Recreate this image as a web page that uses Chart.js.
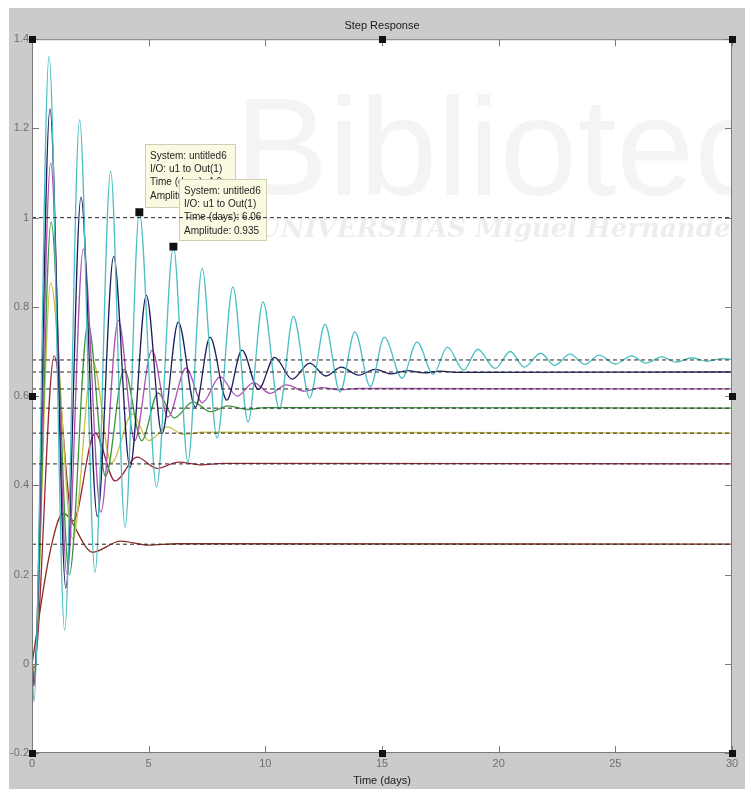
<!DOCTYPE html>
<html>
<head>
<meta charset="utf-8">
<script src="https://cdn.jsdelivr.net/npm/chart.js@4.4.0/dist/chart.umd.min.js"></script>
<style>
  html, body { margin: 0; padding: 0; background: #fff; }
  #panel { position: absolute; left: 9px; top: 8px; width: 736px; height: 781px; background: #cbcbcb; }
</style>
</head>
<body>
<div id="panel"><canvas id="stepChart" width="736" height="781"></canvas></div>
<script>
const xTicks = [0, 5, 10, 15, 20, 25, 30];
const yTicks = [-0.2, 0, 0.2, 0.4, 0.6, 0.8, 1, 1.2, 1.4];

// step responses, [time (days), amplitude] read at the peaks and troughs
const cyan = [[0,0],[0.08,-0.085],[0.73,1.362],[1.4,0.075],[2.04,1.219],[2.7,0.205],[3.37,1.104],[3.99,0.306],
  [4.6,1.012],[5.34,0.396],[6.06,0.935],[6.68,0.452],[7.29,0.887],[7.93,0.506],[8.61,0.845],[9.26,0.542],
  [9.9,0.811],[10.6,0.571],[11.2,0.779],[11.9,0.596],[12.56,0.761],[13.2,0.609],[13.84,0.744],[14.5,0.621],
  [15.1,0.732],[15.86,0.64],[16.5,0.721],[17.2,0.649],[17.8,0.71],[18.5,0.658],[19.1,0.705],[19.85,0.662],
  [20.5,0.7],[21.1,0.665],[21.8,0.696],[22.4,0.669],[23.06,0.694],[23.7,0.671],[24.3,0.692],[25,0.672],
  [25.7,0.69],[26.3,0.674],[27,0.688],[27.6,0.676],[28.3,0.686],[28.9,0.678],[29.6,0.684],[30,0.682]];
const navy = [[0,0],[0.08,-0.05],[0.77,1.243],[1.45,0.17],[2.1,1.046],[2.8,0.33],[3.5,0.913],[4.2,0.44],
  [4.9,0.826],[5.57,0.516],[6.27,0.766],[7,0.575],[7.63,0.732],[8.35,0.591],[9,0.703],[9.7,0.615],
  [10.4,0.687],[11.15,0.638],[11.9,0.674],[12.6,0.645],[13.25,0.665],[14,0.647],[14.7,0.66],[15.4,0.65],
  [16.1,0.657],[16.8,0.652],[17.5,0.656],[18.3,0.653],[30,0.654]];
const purple = [[0,0],[0.08,-0.04],[0.8,1.122],[1.5,0.2],[2.2,0.93],[2.95,0.34],[3.7,0.77],[4.4,0.5],
  [5.14,0.703],[5.83,0.553],[6.6,0.663],[7.3,0.585],[8.06,0.643],[8.8,0.6],[9.5,0.63],[10.2,0.606],
  [10.9,0.625],[11.7,0.611],[12.4,0.619],[13.2,0.614],[14,0.617],[30,0.616]];
const green = [[0,0],[0.08,-0.03],[0.82,0.99],[1.6,0.2],[2.4,0.763],[3.15,0.42],[3.95,0.66],[4.7,0.5],
  [5.4,0.607],[6.1,0.551],[6.9,0.587],[7.65,0.565],[8.4,0.578],[9.2,0.57],[10,0.574],[30,0.573]];
const yellow = [[0,0],[0.08,-0.02],[0.8,0.853],[1.75,0.28],[2.6,0.68],[3.4,0.45],[4.3,0.56],[5,0.5],
  [5.8,0.531],[6.5,0.514],[7.3,0.519],[30,0.517]];
const maroon = [[0,0],[0.08,-0.01],[0.95,0.69],[1.76,0.32],[2.7,0.517],[3.56,0.41],[4.5,0.463],[5.35,0.438],
  [6.3,0.452],[7.2,0.446],[8.2,0.449],[30,0.448]];
const darkRed = [[0,0],[0.77,0.25],[1.33,0.337],[2.6,0.25],[3.8,0.275],[5,0.266],[6.2,0.269],[30,0.268]];

const finals = [1, 0.681, 0.654, 0.616, 0.573, 0.517, 0.448, 0.268];

const tipPoints = [[4.6, 1.012], [6.06, 0.935]];
const tipTexts = [
  ['System: untitled6', 'I/O: u1 to Out(1)', 'Time (days): 4.6', 'Amplitude: 1.01'],
  ['System: untitled6', 'I/O: u1 to Out(1)', 'Time (days): 6.06', 'Amplitude: 0.935']
];

const FONT = '"Liberation Sans", Arial, Helvetica, sans-serif';
Chart.defaults.font.family = FONT;

const curveList = [
  [cyan, '#4dbfc3'],
  [navy, '#1d1d60'],
  [purple, '#ac52b0'],
  [green, '#3f963f'],
  [yellow, '#c9c34a'],
  [maroon, '#9a2a3a'],
  [darkRed, '#8a3020']
];
const toXY = arr => arr.map(p => ({x: p[0], y: p[1]}));

const datasets = [];
datasets.push({
  data: toXY(tipPoints),
  showLine: false,
  pointStyle: 'rect',
  pointRadius: 5.6,
  pointBackgroundColor: '#111',
  pointBorderWidth: 0,
  order: 0
});
finals.forEach(f => {
  datasets.push({
    data: [{x: xTicks[0], y: f}, {x: xTicks[xTicks.length - 1], y: f}],
    borderColor: '#262626',
    borderWidth: 1,
    borderDash: [4, 3],
    pointRadius: 0,
    order: 1
  });
});
curveList.forEach(c => {
  datasets.push({
    data: toXY(c[0]),
    borderColor: c[1],
    borderWidth: 1.3,
    pointRadius: 0,
    cubicInterpolationMode: 'monotone',
    order: 2
  });
});

const plotDecor = {
  id: 'plotDecor',
  beforeDraw(chart) {
    const {ctx, chartArea: a} = chart;
    ctx.save();
    ctx.fillStyle = '#ffffff';
    ctx.fillRect(a.left, a.top, a.right - a.left, a.bottom - a.top);
    ctx.beginPath();
    ctx.rect(a.left, a.top, a.right - a.left, a.bottom - a.top);
    ctx.clip();
    // faint watermark
    ctx.fillStyle = 'rgba(0,0,0,0.045)';
    ctx.font = '140px ' + FONT;
    ctx.fillText('Biblioteca', a.left + 203, a.top + 156);
    ctx.fillStyle = 'rgba(0,0,0,0.07)';
    ctx.font = 'bold italic 26px "DejaVu Serif", serif';
    ctx.fillText('UNIVERSITAS Miguel Hernández', a.left + 226, a.top + 198);
    ctx.restore();
  },
  beforeDatasetsDraw(chart) {
    const {ctx, scales: {x, y}} = chart;
    ctx.save();
    tipPoints.forEach((p, i) => {
      const bx = Math.round(x.getPixelForValue(p[0])) + 6;
      const by = Math.round(y.getPixelForValue(p[1])) - 68;
      const w = i === 0 ? 91 : 88, h = i === 0 ? 64 : 62;
      ctx.fillStyle = '#fafae3';
      ctx.fillRect(bx, by, w, h);
      ctx.strokeStyle = '#cfcfb6';
      ctx.lineWidth = 1;
      ctx.strokeRect(bx + 0.5, by + 0.5, w - 1, h - 1);
      ctx.fillStyle = '#1e1e1e';
      ctx.font = '10px ' + FONT;
      ctx.textBaseline = 'middle';
      tipTexts[i].forEach((s, k) => ctx.fillText(s, bx + 5, by + 12 + k * 13.3));
    });
    ctx.restore();
  },
  afterDatasetsDraw(chart) {
    const {ctx, chartArea: a, scales: {x, y}} = chart;
    ctx.save();
    ctx.strokeStyle = '#7a7a7a';
    ctx.lineWidth = 1;
    ctx.strokeRect(a.left + 0.5, a.top + 0.5, a.right - a.left - 1, a.bottom - a.top - 1);
    ctx.beginPath();
    xTicks.forEach(v => {
      const px = Math.round(x.getPixelForValue(v)) + 0.5;
      ctx.moveTo(px, a.bottom); ctx.lineTo(px, a.bottom - 7);
      ctx.moveTo(px, a.top); ctx.lineTo(px, a.top + 7);
    });
    yTicks.forEach(v => {
      const py = Math.round(y.getPixelForValue(v)) + 0.5;
      ctx.moveTo(a.left, py); ctx.lineTo(a.left + 7, py);
      ctx.moveTo(a.right, py); ctx.lineTo(a.right - 7, py);
    });
    ctx.stroke();
    // selection handles of the axes
    const mx = Math.round((a.left + a.right) / 2), my = Math.round((a.top + a.bottom) / 2);
    const hs = [[a.left, a.top], [mx, a.top], [a.right, a.top], [a.left, my], [a.right, my],
                [a.left, a.bottom], [mx, a.bottom], [a.right, a.bottom]];
    ctx.fillStyle = '#111';
    hs.forEach(h => ctx.fillRect(Math.round(h[0]) - 3, Math.round(h[1]) - 3, 7, 7));
    ctx.restore();
  }
};

new Chart(document.getElementById('stepChart'), {
  type: 'line',
  data: {datasets: datasets},
  options: {
    responsive: false,
    animation: false,
    events: [],
    layout: {padding: {left: 0, right: 13, top: 0, bottom: 0}},
    plugins: {
      legend: {display: false},
      tooltip: {enabled: false},
      title: {
        display: true,
        fullSize: false,
        text: 'Step Response',
        color: '#1a1a1a',
        font: {size: 11, weight: 'normal'},
        padding: {top: 11, bottom: 7}
      }
    },
    scales: {
      x: {
        type: 'linear',
        min: xTicks[0],
        max: xTicks[xTicks.length - 1],
        afterBuildTicks: s => { s.ticks = xTicks.map(v => ({value: v})); },
        afterFit: s => { s.height = 36; },
        grid: {display: false, drawTicks: false},
        border: {display: false},
        ticks: {color: '#6f6f6f', font: {size: 11}, padding: 4, maxRotation: 0, callback: v => String(v)},
        title: {display: true, text: 'Time (days)', color: '#1a1a1a', font: {size: 11}, padding: {top: 0, bottom: 1}}
      },
      y: {
        type: 'linear',
        min: yTicks[0],
        max: yTicks[yTicks.length - 1],
        afterBuildTicks: s => { s.ticks = yTicks.map(v => ({value: v})); },
        afterFit: s => { s.width = 23; },
        grid: {display: false, drawTicks: false},
        border: {display: false},
        ticks: {color: '#6f6f6f', font: {size: 11}, padding: 3, callback: v => String(v)}
      }
    }
  },
  plugins: [plotDecor]
});
</script>
</body>
</html>
